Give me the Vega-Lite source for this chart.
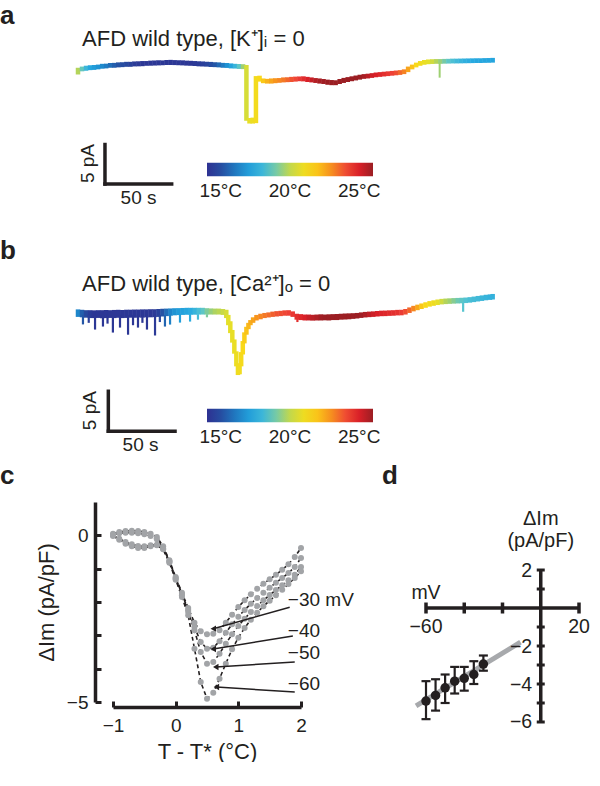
{
"$schema": "https://vega.github.io/schema/vega-lite/v6.json",
"background": "white",
"padding": {"left": 0, "top": 2, "right": 0, "bottom": 0},
"spacing": 6,
"config": {
  "view": {"stroke": null},
  "font": "Liberation Sans",
  "text": {"font": "Liberation Sans", "color": "#231f20"},
  "title": {"font": "Liberation Sans", "fontSize": 26, "fontWeight": "bold", "anchor": "start", "frame": "group", "baseline": "alphabetic", "color": "#231f20"},
  "axis": {"labelFont": "Liberation Sans", "titleFont": "Liberation Sans", "grid": false}
},
"resolve": {"scale": {"color": "independent"}},
"datasets": {
  "traceA": [
    {"t":0,"lo":-0.75,"hi":0.1,"temp":19.8},{"t":3,"lo":-0.35,"hi":0.25,"temp":18.8},{"t":6,"lo":-0.28,"hi":0.36,"temp":18.0},{"t":9,"lo":-0.2,"hi":0.42,"temp":17.4},
    {"t":12,"lo":-0.17,"hi":0.45,"temp":17.0},{"t":15,"lo":-0.1,"hi":0.5,"temp":16.7},{"t":18,"lo":-0.02,"hi":0.6,"temp":16.4},{"t":21,"lo":0.02,"hi":0.62,"temp":16.1},
    {"t":24,"lo":0.1,"hi":0.7,"temp":15.8},{"t":27,"lo":0.1,"hi":0.72,"temp":15.5},{"t":30,"lo":0.15,"hi":0.78,"temp":15.2},{"t":33,"lo":0.18,"hi":0.8,"temp":15.0},
    {"t":36,"lo":0.22,"hi":0.85,"temp":14.8},{"t":39,"lo":0.22,"hi":0.85,"temp":14.6},{"t":42,"lo":0.27,"hi":0.9,"temp":14.4},{"t":45,"lo":0.28,"hi":0.92,"temp":14.3},
    {"t":48,"lo":0.3,"hi":0.95,"temp":14.2},{"t":51,"lo":0.35,"hi":0.95,"temp":14.2},{"t":54,"lo":0.36,"hi":1.0,"temp":14.2},{"t":57,"lo":0.38,"hi":1.02,"temp":14.2},
    {"t":60,"lo":0.4,"hi":1.05,"temp":14.2},{"t":63,"lo":0.42,"hi":1.03,"temp":14.2},{"t":66,"lo":0.45,"hi":1.08,"temp":14.2},{"t":69,"lo":0.45,"hi":1.1,"temp":14.2},
    {"t":72,"lo":0.44,"hi":1.07,"temp":14.2},{"t":75,"lo":0.42,"hi":1.05,"temp":14.2},{"t":78,"lo":0.4,"hi":1.04,"temp":14.2},{"t":81,"lo":0.37,"hi":1.0,"temp":14.2},
    {"t":84,"lo":0.35,"hi":0.98,"temp":14.2},{"t":87,"lo":0.32,"hi":0.95,"temp":14.3},{"t":90,"lo":0.28,"hi":0.92,"temp":14.4},{"t":93,"lo":0.26,"hi":0.9,"temp":14.5},
    {"t":96,"lo":0.24,"hi":0.86,"temp":14.7},{"t":99,"lo":0.2,"hi":0.84,"temp":15.0},{"t":102,"lo":0.18,"hi":0.8,"temp":15.3},{"t":105,"lo":0.15,"hi":0.78,"temp":15.7},
    {"t":108,"lo":0.1,"hi":0.72,"temp":16.1},{"t":111,"lo":0.08,"hi":0.7,"temp":16.6},{"t":114,"lo":0.02,"hi":0.65,"temp":17.2},{"t":117,"lo":0.0,"hi":0.6,"temp":17.9},
    {"t":120,"lo":-0.05,"hi":0.58,"temp":18.7},{"t":123,"lo":-0.07,"hi":0.55,"temp":19.5},
    {"t":125.5,"lo":-6.6,"hi":0.45,"temp":20.3},{"t":127.8,"lo":-6.95,"hi":-6.25,"temp":20.7},{"t":130.2,"lo":-6.95,"hi":-6.2,"temp":20.9},{"t":132.6,"lo":-6.9,"hi":-0.95,"temp":21.2},
    {"t":135.3,"lo":-1.65,"hi":-0.9,"temp":21.5},{"t":138,"lo":-1.85,"hi":-1.25,"temp":21.9},{"t":141,"lo":-1.9,"hi":-1.3,"temp":22.3},{"t":144,"lo":-1.9,"hi":-1.25,"temp":22.6},
    {"t":147,"lo":-1.85,"hi":-1.22,"temp":22.9},{"t":150,"lo":-1.8,"hi":-1.2,"temp":23.1},{"t":153,"lo":-1.75,"hi":-1.12,"temp":23.3},{"t":156,"lo":-1.72,"hi":-1.1,"temp":23.6},
    {"t":159,"lo":-1.7,"hi":-1.05,"temp":23.9},{"t":162,"lo":-1.65,"hi":-1.02,"temp":24.1},{"t":165,"lo":-1.6,"hi":-1.0,"temp":24.4},{"t":168,"lo":-1.62,"hi":-0.98,"temp":24.7},
    {"t":171,"lo":-1.7,"hi":-1.05,"temp":25.0},{"t":174,"lo":-1.75,"hi":-1.12,"temp":25.3},{"t":177,"lo":-1.82,"hi":-1.2,"temp":25.6},{"t":180,"lo":-1.9,"hi":-1.25,"temp":25.8},
    {"t":183,"lo":-1.95,"hi":-1.32,"temp":25.9},{"t":186,"lo":-2.05,"hi":-1.4,"temp":26},{"t":189,"lo":-2.1,"hi":-1.45,"temp":26},{"t":192,"lo":-2.1,"hi":-1.48,"temp":26},
    {"t":195,"lo":-1.95,"hi":-1.32,"temp":26},{"t":198,"lo":-1.82,"hi":-1.18,"temp":26},{"t":201,"lo":-1.7,"hi":-1.08,"temp":26},{"t":204,"lo":-1.6,"hi":-0.98,"temp":26},
    {"t":207,"lo":-1.5,"hi":-0.88,"temp":26},{"t":210,"lo":-1.4,"hi":-0.78,"temp":26},{"t":213,"lo":-1.3,"hi":-0.7,"temp":25.8},{"t":216,"lo":-1.25,"hi":-0.65,"temp":25.5},
    {"t":219,"lo":-1.18,"hi":-0.58,"temp":25.2},{"t":222,"lo":-1.1,"hi":-0.5,"temp":25.0},{"t":225,"lo":-1.05,"hi":-0.45,"temp":24.8},{"t":228,"lo":-1.0,"hi":-0.4,"temp":24.6},
    {"t":231,"lo":-0.95,"hi":-0.35,"temp":24.4},{"t":234,"lo":-0.9,"hi":-0.3,"temp":24.2},{"t":237,"lo":-0.85,"hi":-0.25,"temp":24.0},{"t":240,"lo":-0.8,"hi":-0.2,"temp":23.6},
    {"t":243,"lo":-0.7,"hi":-0.1,"temp":23.2},{"t":246,"lo":-0.45,"hi":0.25,"temp":22.6},{"t":249,"lo":-0.1,"hi":0.5,"temp":22.0},{"t":252,"lo":0.15,"hi":0.75,"temp":21.5},
    {"t":255,"lo":0.35,"hi":0.95,"temp":21.1},{"t":258,"lo":0.48,"hi":1.08,"temp":20.8},{"t":261,"lo":0.55,"hi":1.15,"temp":20.5},{"t":264,"lo":0.58,"hi":1.18,"temp":20.2},
    {"t":267,"lo":0.6,"hi":1.2,"temp":19.8},{"t":270,"lo":0.6,"hi":1.2,"temp":19.4},{"t":273,"lo":0.62,"hi":1.22,"temp":19.0},{"t":276,"lo":0.63,"hi":1.23,"temp":18.7},
    {"t":279,"lo":0.65,"hi":1.25,"temp":18.4},{"t":282,"lo":0.65,"hi":1.25,"temp":18.1},{"t":285,"lo":0.66,"hi":1.26,"temp":17.9},{"t":288,"lo":0.67,"hi":1.27,"temp":17.7},
    {"t":291,"lo":0.68,"hi":1.28,"temp":17.6},{"t":294,"lo":0.69,"hi":1.29,"temp":17.5},{"t":297,"lo":0.7,"hi":1.3,"temp":17.4},{"t":300,"lo":0.7,"hi":1.3,"temp":17.4},
    {"t":303,"lo":0.72,"hi":1.32,"temp":17.3},{"t":306,"lo":0.73,"hi":1.33,"temp":17.3},{"t":309,"lo":0.75,"hi":1.35,"temp":17.3}
  ],
  "spikesA": [{"t":269.5,"lo":-1.15,"hi":0.8,"temp":19.5}],
  "traceB": [
    {"t":0,"lo":-0.55,"hi":0.4,"temp":16.3},{"t":3,"lo":-0.6,"hi":0.35,"temp":15.5},{"t":6,"lo":-0.65,"hi":0.3,"temp":14.8},{"t":9,"lo":-0.7,"hi":0.3,"temp":14.4},
    {"t":12,"lo":-0.7,"hi":0.28,"temp":14.2},{"t":15,"lo":-0.68,"hi":0.3,"temp":14.2},{"t":18,"lo":-0.72,"hi":0.3,"temp":14.2},{"t":21,"lo":-0.7,"hi":0.32,"temp":14.2},
    {"t":24,"lo":-0.68,"hi":0.3,"temp":14.2},{"t":27,"lo":-0.7,"hi":0.33,"temp":14.2},{"t":30,"lo":-0.66,"hi":0.35,"temp":14.2},{"t":33,"lo":-0.7,"hi":0.32,"temp":14.2},
    {"t":36,"lo":-0.68,"hi":0.36,"temp":14.2},{"t":39,"lo":-0.65,"hi":0.36,"temp":14.2},{"t":42,"lo":-0.66,"hi":0.38,"temp":14.2},{"t":45,"lo":-0.62,"hi":0.38,"temp":14.2},
    {"t":48,"lo":-0.64,"hi":0.4,"temp":14.2},{"t":51,"lo":-0.6,"hi":0.4,"temp":14.2},{"t":54,"lo":-0.6,"hi":0.42,"temp":14.2},{"t":57,"lo":-0.58,"hi":0.42,"temp":14.3},
    {"t":60,"lo":-0.55,"hi":0.45,"temp":14.6},{"t":63,"lo":-0.5,"hi":0.48,"temp":15.2},{"t":66,"lo":-0.45,"hi":0.5,"temp":15.8},{"t":69,"lo":-0.4,"hi":0.52,"temp":16.3},
    {"t":72,"lo":-0.35,"hi":0.55,"temp":16.7},{"t":75,"lo":-0.32,"hi":0.56,"temp":17.0},{"t":78,"lo":-0.3,"hi":0.58,"temp":17.2},{"t":81,"lo":-0.28,"hi":0.6,"temp":17.4},
    {"t":84,"lo":-0.28,"hi":0.6,"temp":17.6},{"t":87,"lo":-0.27,"hi":0.6,"temp":17.9},{"t":90,"lo":-0.25,"hi":0.6,"temp":18.3},{"t":93,"lo":-0.25,"hi":0.6,"temp":18.7},
    {"t":96,"lo":-0.25,"hi":0.55,"temp":19.1},{"t":99,"lo":-0.25,"hi":0.52,"temp":19.4},{"t":102,"lo":-0.25,"hi":0.5,"temp":19.7},{"t":105,"lo":-0.25,"hi":0.5,"temp":19.9},
    {"t":108,"lo":-0.3,"hi":0.45,"temp":20.1},{"t":110.5,"lo":-0.7,"hi":0.35,"temp":20.3},
    {"t":112,"lo":-1.6,"hi":-0.3,"temp":20.5},{"t":113.5,"lo":-2.6,"hi":-1.1,"temp":20.6},{"t":115,"lo":-3.8,"hi":-2.2,"temp":20.7},{"t":116.5,"lo":-5.2,"hi":-3.4,"temp":20.8},
    {"t":118,"lo":-6.8,"hi":-4.9,"temp":20.9},{"t":119.2,"lo":-7.9,"hi":-6.4,"temp":21.0},{"t":120.4,"lo":-7.8,"hi":-6.5,"temp":21.1},{"t":121.6,"lo":-6.8,"hi":-5.0,"temp":21.3},
    {"t":122.8,"lo":-5.3,"hi":-3.6,"temp":21.5},{"t":124,"lo":-3.9,"hi":-2.5,"temp":21.8},{"t":125.5,"lo":-2.8,"hi":-1.8,"temp":22.0},{"t":127,"lo":-2.1,"hi":-1.3,"temp":22.2},
    {"t":128.5,"lo":-1.6,"hi":-0.95,"temp":22.4},{"t":130.5,"lo":-1.3,"hi":-0.6,"temp":22.6},{"t":133,"lo":-1.0,"hi":-0.3,"temp":22.9},{"t":136,"lo":-0.85,"hi":-0.15,"temp":23.1},
    {"t":139,"lo":-0.7,"hi":-0.05,"temp":23.3},{"t":142,"lo":-0.62,"hi":0.02,"temp":23.5},{"t":145,"lo":-0.55,"hi":0.12,"temp":23.7},{"t":148,"lo":-0.5,"hi":0.18,"temp":23.9},
    {"t":151,"lo":-0.45,"hi":0.22,"temp":24.0},{"t":154,"lo":-0.4,"hi":0.28,"temp":24.1},{"t":157,"lo":-0.4,"hi":0.3,"temp":24.2},{"t":160,"lo":-0.55,"hi":0.15,"temp":24.4},
    {"t":163,"lo":-0.9,"hi":-0.15,"temp":24.6},{"t":166,"lo":-0.95,"hi":-0.2,"temp":24.8},{"t":169,"lo":-1.0,"hi":-0.25,"temp":25.0},{"t":172,"lo":-1.0,"hi":-0.25,"temp":25.3},
    {"t":175,"lo":-1.02,"hi":-0.28,"temp":25.5},{"t":178,"lo":-1.0,"hi":-0.25,"temp":25.7},{"t":181,"lo":-1.0,"hi":-0.22,"temp":25.9},{"t":184,"lo":-0.98,"hi":-0.25,"temp":26},
    {"t":187,"lo":-1.0,"hi":-0.22,"temp":26},{"t":190,"lo":-0.95,"hi":-0.2,"temp":26},{"t":193,"lo":-0.95,"hi":-0.18,"temp":26},{"t":196,"lo":-0.9,"hi":-0.15,"temp":26},
    {"t":199,"lo":-0.88,"hi":-0.12,"temp":26},{"t":202,"lo":-0.85,"hi":-0.1,"temp":26},{"t":205,"lo":-0.8,"hi":-0.08,"temp":26},{"t":208,"lo":-0.75,"hi":-0.05,"temp":26},
    {"t":211,"lo":-0.68,"hi":0.02,"temp":25.9},{"t":214,"lo":-0.62,"hi":0.08,"temp":25.7},{"t":217,"lo":-0.58,"hi":0.12,"temp":25.4},{"t":220,"lo":-0.55,"hi":0.15,"temp":25.2},
    {"t":223,"lo":-0.5,"hi":0.2,"temp":25.0},{"t":226,"lo":-0.46,"hi":0.24,"temp":24.9},{"t":229,"lo":-0.45,"hi":0.25,"temp":24.8},{"t":232,"lo":-0.42,"hi":0.28,"temp":24.7},
    {"t":235,"lo":-0.4,"hi":0.3,"temp":24.6},{"t":238,"lo":-0.36,"hi":0.34,"temp":24.5},{"t":241,"lo":-0.35,"hi":0.35,"temp":24.3},{"t":244,"lo":-0.25,"hi":0.45,"temp":24.0},
    {"t":247,"lo":-0.05,"hi":0.65,"temp":23.6},{"t":250,"lo":0.15,"hi":0.85,"temp":23.1},{"t":253,"lo":0.3,"hi":1.0,"temp":22.5},{"t":256,"lo":0.45,"hi":1.15,"temp":21.9},
    {"t":259,"lo":0.6,"hi":1.3,"temp":21.5},{"t":262,"lo":0.75,"hi":1.45,"temp":21.2},{"t":265,"lo":0.85,"hi":1.55,"temp":21.0},{"t":268,"lo":0.95,"hi":1.65,"temp":20.6},
    {"t":271,"lo":1.03,"hi":1.73,"temp":20.2},{"t":274,"lo":1.07,"hi":1.77,"temp":19.8},{"t":277,"lo":1.1,"hi":1.8,"temp":19.5},{"t":280,"lo":1.13,"hi":1.83,"temp":19.2},
    {"t":283,"lo":1.15,"hi":1.85,"temp":18.9},{"t":286,"lo":1.17,"hi":1.87,"temp":18.7},{"t":289,"lo":1.2,"hi":1.9,"temp":18.5},{"t":292,"lo":1.25,"hi":1.95,"temp":18.3},
    {"t":295,"lo":1.32,"hi":2.02,"temp":18.2},{"t":298,"lo":1.4,"hi":2.1,"temp":18.1},{"t":301,"lo":1.47,"hi":2.17,"temp":18.0},{"t":304,"lo":1.55,"hi":2.25,"temp":17.9},
    {"t":307,"lo":1.6,"hi":2.3,"temp":17.8},{"t":309,"lo":1.65,"hi":2.35,"temp":17.8}
  ],
  "spikesB": [
    {"t":3.7,"lo":-1.5,"hi":-0.3,"temp":15.3},{"t":8,"lo":-1.3,"hi":-0.3,"temp":14.5},{"t":12.7,"lo":-2.15,"hi":-0.3,"temp":14.2},{"t":18.6,"lo":-1.77,"hi":-0.3,"temp":14.2},
    {"t":22,"lo":-1.4,"hi":-0.3,"temp":14.2},{"t":26,"lo":-2.53,"hi":-0.3,"temp":14.2},{"t":31.3,"lo":-1.9,"hi":-0.3,"temp":14.2},{"t":37.3,"lo":-2.8,"hi":-0.3,"temp":14.2},
    {"t":41,"lo":-1.6,"hi":-0.3,"temp":14.2},{"t":44.7,"lo":-1.9,"hi":-0.3,"temp":14.2},{"t":48,"lo":-1.3,"hi":-0.3,"temp":14.2},{"t":51.4,"lo":-2.15,"hi":-0.3,"temp":14.2},
    {"t":57.4,"lo":-2.9,"hi":-0.3,"temp":14.3},{"t":61,"lo":-1.2,"hi":-0.3,"temp":14.8},{"t":64.8,"lo":-1.77,"hi":-0.3,"temp":15.6},{"t":68.6,"lo":-1.52,"hi":-0.3,"temp":16.2},
    {"t":76,"lo":-1.27,"hi":-0.2,"temp":17.1},{"t":83.5,"lo":-1.14,"hi":-0.2,"temp":17.6},{"t":89.4,"lo":-0.9,"hi":-0.2,"temp":18.2},{"t":96.1,"lo":-0.6,"hi":-0.2,"temp":19.1},
    {"t":163.5,"lo":-1.2,"hi":-0.5,"temp":24.6},{"t":287,"lo":0.1,"hi":1.3,"temp":18.6}
  ],
  "curves": [
    {"mV":"-30","x":-1.0,"y":0.05},{"mV":"-30","x":-0.9,"y":0.1},{"mV":"-30","x":-0.8,"y":0.13},{"mV":"-30","x":-0.7,"y":0.14},{"mV":"-30","x":-0.6,"y":0.13},{"mV":"-30","x":-0.5,"y":0.1},{"mV":"-30","x":-0.4,"y":0.05},{"mV":"-30","x":-0.3,"y":-0.05},
    {"mV":"-30","x":-0.2,"y":-0.33},{"mV":"-30","x":-0.1,"y":-0.75},{"mV":"-30","x":0.0,"y":-1.25},{"mV":"-30","x":0.1,"y":-1.72},{"mV":"-30","x":0.2,"y":-2.18},{"mV":"-30","x":0.3,"y":-2.62},{"mV":"-30","x":0.4,"y":-2.88},{"mV":"-30","x":0.5,"y":-2.97},
    {"mV":"-30","x":0.6,"y":-2.95},{"mV":"-30","x":0.7,"y":-2.85},{"mV":"-30","x":0.8,"y":-2.62},{"mV":"-30","x":0.9,"y":-2.38},{"mV":"-30","x":1.0,"y":-2.15},{"mV":"-30","x":1.1,"y":-1.95},{"mV":"-30","x":1.2,"y":-1.77},{"mV":"-30","x":1.3,"y":-1.6},
    {"mV":"-30","x":1.4,"y":-1.45},{"mV":"-30","x":1.5,"y":-1.32},{"mV":"-30","x":1.6,"y":-1.18},{"mV":"-30","x":1.7,"y":-1.03},{"mV":"-30","x":1.8,"y":-0.87},{"mV":"-30","x":1.9,"y":-0.65},{"mV":"-30","x":2.0,"y":-0.38},
    {"mV":"-40","x":-1.0,"y":0.02},{"mV":"-40","x":-0.9,"y":0.06},{"mV":"-40","x":-0.8,"y":0.08},{"mV":"-40","x":-0.7,"y":0.08},{"mV":"-40","x":-0.6,"y":0.06},{"mV":"-40","x":-0.5,"y":0.03},{"mV":"-40","x":-0.4,"y":-0.02},{"mV":"-40","x":-0.3,"y":-0.12},
    {"mV":"-40","x":-0.2,"y":-0.38},{"mV":"-40","x":-0.1,"y":-0.78},{"mV":"-40","x":0.0,"y":-1.28},{"mV":"-40","x":0.1,"y":-1.76},{"mV":"-40","x":0.2,"y":-2.24},{"mV":"-40","x":0.3,"y":-2.75},{"mV":"-40","x":0.4,"y":-3.2},{"mV":"-40","x":0.5,"y":-3.4},
    {"mV":"-40","x":0.6,"y":-3.37},{"mV":"-40","x":0.7,"y":-3.18},{"mV":"-40","x":0.8,"y":-2.92},{"mV":"-40","x":0.9,"y":-2.67},{"mV":"-40","x":1.0,"y":-2.44},{"mV":"-40","x":1.1,"y":-2.24},{"mV":"-40","x":1.2,"y":-2.05},{"mV":"-40","x":1.3,"y":-1.88},
    {"mV":"-40","x":1.4,"y":-1.72},{"mV":"-40","x":1.5,"y":-1.57},{"mV":"-40","x":1.6,"y":-1.42},{"mV":"-40","x":1.7,"y":-1.28},{"mV":"-40","x":1.8,"y":-1.13},{"mV":"-40","x":1.9,"y":-0.95},{"mV":"-40","x":2.0,"y":-0.68},
    {"mV":"-50","x":-1.0,"y":0.0},{"mV":"-50","x":-0.9,"y":-0.1},{"mV":"-50","x":-0.8,"y":-0.2},{"mV":"-50","x":-0.7,"y":-0.27},{"mV":"-50","x":-0.6,"y":-0.32},{"mV":"-50","x":-0.5,"y":-0.33},{"mV":"-50","x":-0.4,"y":-0.3},{"mV":"-50","x":-0.3,"y":-0.28},
    {"mV":"-50","x":-0.2,"y":-0.4},{"mV":"-50","x":-0.1,"y":-0.8},{"mV":"-50","x":0.0,"y":-1.3},{"mV":"-50","x":0.1,"y":-1.8},{"mV":"-50","x":0.2,"y":-2.3},{"mV":"-50","x":0.3,"y":-2.85},{"mV":"-50","x":0.4,"y":-3.5},{"mV":"-50","x":0.5,"y":-3.85},
    {"mV":"-50","x":0.6,"y":-3.8},{"mV":"-50","x":0.7,"y":-3.55},{"mV":"-50","x":0.8,"y":-3.25},{"mV":"-50","x":0.9,"y":-2.97},{"mV":"-50","x":1.0,"y":-2.72},{"mV":"-50","x":1.1,"y":-2.5},{"mV":"-50","x":1.2,"y":-2.3},{"mV":"-50","x":1.3,"y":-2.12},
    {"mV":"-50","x":1.4,"y":-1.95},{"mV":"-50","x":1.5,"y":-1.79},{"mV":"-50","x":1.6,"y":-1.64},{"mV":"-50","x":1.7,"y":-1.5},{"mV":"-50","x":1.8,"y":-1.35},{"mV":"-50","x":1.9,"y":-1.18},{"mV":"-50","x":2.0,"y":-0.95},
    {"mV":"-60","x":-1.0,"y":-0.02},{"mV":"-60","x":-0.9,"y":-0.13},{"mV":"-60","x":-0.8,"y":-0.25},{"mV":"-60","x":-0.7,"y":-0.33},{"mV":"-60","x":-0.6,"y":-0.38},{"mV":"-60","x":-0.5,"y":-0.38},{"mV":"-60","x":-0.4,"y":-0.33},{"mV":"-60","x":-0.3,"y":-0.3},
    {"mV":"-60","x":-0.2,"y":-0.42},{"mV":"-60","x":-0.1,"y":-0.82},{"mV":"-60","x":0.0,"y":-1.33},{"mV":"-60","x":0.1,"y":-1.85},{"mV":"-60","x":0.2,"y":-2.4},{"mV":"-60","x":0.3,"y":-3.4},{"mV":"-60","x":0.4,"y":-4.4},{"mV":"-60","x":0.5,"y":-4.9},
    {"mV":"-60","x":0.6,"y":-4.72},{"mV":"-60","x":0.7,"y":-4.3},{"mV":"-60","x":0.8,"y":-3.85},{"mV":"-60","x":0.9,"y":-3.42},{"mV":"-60","x":1.0,"y":-3.07},{"mV":"-60","x":1.1,"y":-2.78},{"mV":"-60","x":1.2,"y":-2.53},{"mV":"-60","x":1.3,"y":-2.32},
    {"mV":"-60","x":1.4,"y":-2.13},{"mV":"-60","x":1.5,"y":-1.96},{"mV":"-60","x":1.6,"y":-1.8},{"mV":"-60","x":1.7,"y":-1.63},{"mV":"-60","x":1.8,"y":-1.46},{"mV":"-60","x":1.9,"y":-1.28},{"mV":"-60","x":2.0,"y":-1.08}
  ],
  "arrows": [
    {"lab":"−30 mV","x1":1.82,"y1":-2.16,"x2":0.6,"y2":-2.8,"lx":1.79,"ly":-1.95},
    {"lab":"−40","x1":1.87,"y1":-3.02,"x2":0.6,"y2":-3.41,"lx":1.79,"ly":-2.87},
    {"lab":"−50","x1":1.9,"y1":-3.8,"x2":0.64,"y2":-3.95,"lx":1.79,"ly":-3.53},
    {"lab":"−60","x1":1.9,"y1":-4.7,"x2":0.65,"y2":-4.55,"lx":1.79,"ly":-4.46}
  ],
  "ivD": [
    {"mV":-60,"I":-4.9,"lo":-5.85,"hi":-3.85},{"mV":-55,"I":-4.6,"lo":-5.4,"hi":-3.75},{"mV":-50,"I":-4.2,"lo":-5.0,"hi":-3.5},
    {"mV":-45,"I":-3.85,"lo":-4.5,"hi":-3.1},{"mV":-40,"I":-3.7,"lo":-4.35,"hi":-3.1},{"mV":-35,"I":-3.5,"lo":-4.0,"hi":-2.8},{"mV":-30,"I":-2.95,"lo":-3.3,"hi":-2.5}
  ],
  "fitD": [{"mV":-65.2,"I":-5.15,"mV2":-10.6,"I2":-1.8}],
  "axesD": [{"x":-60,"x2":20,"y":0,"y2":0},{"x":0,"x2":0,"y":-6,"y2":2}]
},
"vconcat": [
  {"hconcat": [{
    "width": 381, "height": 202.7,
    "title": {"text": "a", "dx": -113, "offset": -1.3},
    "layer": [
      {"data": {"name": "traceA"}, "mark": {"type": "rule", "strokeWidth": 4.5, "strokeCap": "butt"},
       "encoding": {
         "x": {"field": "t", "type": "quantitative", "scale": {"domain": [26.08, 310], "nice": false, "zero": false}, "axis": null},
         "y": {"field": "lo", "type": "quantitative", "scale": {"domain": [-20.62, 5], "nice": false, "zero": false}, "axis": null},
         "y2": {"field": "hi"},
         "color": {"field": "temp", "type": "quantitative",
           "scale": {"type": "linear", "domain": [14,15.3,16.5,17.5,18.6,19.6,20.5,21.6,22.9,24.2,25,26], "range": ["#2e3192","#2456a6","#1d8fd1","#27aae1","#56c5d0","#a6d168","#e4e02a","#fbd817","#f7941d","#ee4036","#d92028","#9b1e23"], "interpolate": "rgb"},
           "legend": {"orient": "none", "legendX": 94, "legendY": 133.8, "direction": "horizontal", "title": null, "gradientLength": 166, "gradientThickness": 13.4, "values": [15,20,25], "labelExpr": "datum.value + '°C'", "labelFontSize": 19, "labelColor": "#231f20", "labelFont": "Liberation Sans", "labelOffset": 6, "labelOverlap": false, "labelAlign": "center", "gradientStrokeWidth": 0, "padding": 0}}
       }},
      {"data": {"name": "spikesA"}, "mark": {"type": "rule", "strokeWidth": 2},
       "encoding": {"x": {"field": "t", "type": "quantitative"}, "y": {"field": "lo", "type": "quantitative"}, "y2": {"field": "hi"}, "color": {"field": "temp", "type": "quantitative"}}},
      {"data": {"values": [{"t":20.1,"t2":20.1,"I":-9.6,"I2":-14.6},{"t":20.1,"t2":69.8,"I":-14.6,"I2":-14.6}]}, "mark": {"type": "rule", "strokeWidth": 3.5, "strokeCap": "square", "color": "#231f20"},
       "encoding": {"x": {"field": "t", "type": "quantitative"}, "x2": {"field": "t2"}, "y": {"field": "I", "type": "quantitative"}, "y2": {"field": "I2"}}},
      {"data": {"values": [{"t":7.5,"I":-12.0,"txt":"5 pA"}]}, "mark": {"type": "text", "angle": 270, "fontSize": 19, "align": "center", "baseline": "middle"},
       "encoding": {"x": {"field": "t", "type": "quantitative"}, "y": {"field": "I", "type": "quantitative"}, "text": {"field": "txt"}}},
      {"data": {"values": [{"t":45.1,"I":-16.4,"txt":"50 s"}]}, "mark": {"type": "text", "fontSize": 19, "align": "center", "baseline": "middle"},
       "encoding": {"x": {"field": "t", "type": "quantitative"}, "y": {"field": "I", "type": "quantitative"}, "text": {"field": "txt"}}},
      {"data": {"values": [{"t":3,"I":2.91,"txt":"AFD wild type, [K⁺]ᵢ = 0"}]}, "mark": {"type": "text", "fontSize": 22, "align": "left", "baseline": "alphabetic"},
       "encoding": {"x": {"field": "t", "type": "quantitative"}, "y": {"field": "I", "type": "quantitative"}, "text": {"field": "txt"}}}
    ]
  }], "resolve": {"scale": {"color": "independent"}}},
  {"hconcat": [{
    "width": 381, "height": 178,
    "title": {"text": "b", "dx": -113, "offset": 8.5},
    "layer": [
      {"data": {"name": "traceB"}, "mark": {"type": "rule", "strokeWidth": 4.5, "strokeCap": "butt"},
       "encoding": {
         "x": {"field": "t", "type": "quantitative", "scale": {"domain": [26.08, 310], "nice": false, "zero": false}, "axis": null},
         "y": {"field": "lo", "type": "quantitative", "scale": {"domain": [-17.5, 5], "nice": false, "zero": false}, "axis": null},
         "y2": {"field": "hi"},
         "color": {"field": "temp", "type": "quantitative",
           "scale": {"type": "linear", "domain": [14,15.3,16.5,17.5,18.6,19.6,20.5,21.6,22.9,24.2,25,26], "range": ["#2e3192","#2456a6","#1d8fd1","#27aae1","#56c5d0","#a6d168","#e4e02a","#fbd817","#f7941d","#ee4036","#d92028","#9b1e23"], "interpolate": "rgb"},
           "legend": {"orient": "none", "legendX": 94, "legendY": 135.8, "direction": "horizontal", "title": null, "gradientLength": 166, "gradientThickness": 13.4, "values": [15,20,25], "labelExpr": "datum.value + '°C'", "labelFontSize": 19, "labelColor": "#231f20", "labelFont": "Liberation Sans", "labelOffset": 6, "labelOverlap": false, "labelAlign": "center", "gradientStrokeWidth": 0, "padding": 0}}
       }},
      {"data": {"name": "spikesB"}, "mark": {"type": "rule", "strokeWidth": 2.2},
       "encoding": {"x": {"field": "t", "type": "quantitative"}, "y": {"field": "lo", "type": "quantitative"}, "y2": {"field": "hi"}, "color": {"field": "temp", "type": "quantitative"}}},
      {"data": {"values": [{"t":22.6,"t2":22.6,"I":-9.95,"I2":-15.0},{"t":22.6,"t2":72.3,"I":-15.0,"I2":-15.0}]}, "mark": {"type": "rule", "strokeWidth": 3.5, "strokeCap": "square", "color": "#231f20"},
       "encoding": {"x": {"field": "t", "type": "quantitative"}, "x2": {"field": "t2"}, "y": {"field": "I", "type": "quantitative"}, "y2": {"field": "I2"}}},
      {"data": {"values": [{"t":9.3,"I":-12.4,"txt":"5 pA"}]}, "mark": {"type": "text", "angle": 270, "fontSize": 19, "align": "center", "baseline": "middle"},
       "encoding": {"x": {"field": "t", "type": "quantitative"}, "y": {"field": "I", "type": "quantitative"}, "text": {"field": "txt"}}},
      {"data": {"values": [{"t":46.6,"I":-16.8,"txt":"50 s"}]}, "mark": {"type": "text", "fontSize": 19, "align": "center", "baseline": "middle"},
       "encoding": {"x": {"field": "t", "type": "quantitative"}, "y": {"field": "I", "type": "quantitative"}, "text": {"field": "txt"}}},
      {"data": {"values": [{"t":3,"I":2.78,"txt":"AFD wild type, [Ca²⁺]ₒ = 0"}]}, "mark": {"type": "text", "fontSize": 22, "align": "left", "baseline": "alphabetic"},
       "encoding": {"x": {"field": "t", "type": "quantitative"}, "y": {"field": "I", "type": "quantitative"}, "text": {"field": "txt"}}}
    ]
  }], "resolve": {"scale": {"color": "independent"}}},
  {"hconcat": [
    {
      "width": 188, "height": 200,
      "title": {"text": "c", "dx": -113, "offset": 13.5},
      "layer": [
        {"data": {"name": "curves"}, "mark": {"type": "line", "color": "#231f20", "strokeWidth": 1.6, "strokeDash": [4, 3]},
         "encoding": {
           "x": {"field": "x", "type": "quantitative", "scale": {"domain": [-1, 2], "nice": false, "zero": false},
             "axis": {"values": [-1, 0, 1, 2], "tickCount": 10, "format": "d", "offset": 5, "tickSize": -6, "tickWidth": 3, "tickColor": "#231f20", "domainWidth": 3.5, "domainColor": "#231f20", "labelFontSize": 19, "labelColor": "#231f20", "labelPadding": 15, "labelFlush": false, "labelOverlap": false, "title": "T - T* (°C)", "titleFontSize": 22, "titleFontWeight": "normal", "titleColor": "#231f20", "titlePadding": 6}},
           "y": {"field": "y", "type": "quantitative", "scale": {"domain": [-5, 1], "nice": false, "zero": false},
             "axis": {"values": [0, -1, -2, -3, -4, -5], "tickCount": 10, "labelExpr": "datum.value == 0 ? '0' : (datum.value == -5 ? '−5' : '')", "offset": 18, "tickSize": -6, "tickWidth": 3, "tickColor": "#231f20", "domainWidth": 3.5, "domainColor": "#231f20", "labelFontSize": 19, "labelColor": "#231f20", "labelPadding": 13, "labelFlush": false, "labelOverlap": false, "title": "ΔIm (pA/pF)", "titleFontSize": 22, "titleFontWeight": "normal", "titleColor": "#231f20", "titlePadding": 8}},
           "detail": {"field": "mV"}
         }},
        {"data": {"name": "curves"}, "mark": {"type": "circle", "color": "#a2a4a7", "size": 36, "opacity": 1},
         "encoding": {"x": {"field": "x", "type": "quantitative"}, "y": {"field": "y", "type": "quantitative"}}},
        {"data": {"name": "arrows"}, "mark": {"type": "rule", "color": "#231f20", "strokeWidth": 1.5},
         "encoding": {"x": {"field": "x1", "type": "quantitative"}, "y": {"field": "y1", "type": "quantitative"}, "x2": {"field": "x2"}, "y2": {"field": "y2"}}},
        {"data": {"name": "arrows"}, "mark": {"type": "point", "shape": "triangle-left", "filled": true, "color": "#231f20", "size": 40, "opacity": 1},
         "encoding": {"x": {"field": "x2", "type": "quantitative"}, "y": {"field": "y2", "type": "quantitative"}}},
        {"data": {"name": "arrows"}, "mark": {"type": "text", "fontSize": 19, "align": "left", "baseline": "middle"},
         "encoding": {"x": {"field": "lx", "type": "quantitative"}, "y": {"field": "ly", "type": "quantitative"}, "text": {"field": "lab"}}}
      ]
    },
    {
      "width": 153, "height": 220,
      "title": {"text": "d", "dx": -44, "offset": 13.5},
      "layer": [
        {"data": {"name": "fitD"}, "mark": {"type": "rule", "color": "#a7a9ac", "strokeWidth": 5},
         "encoding": {"x": {"field": "mV", "type": "quantitative", "scale": {"domain": [-60, 20], "nice": false, "zero": false}, "axis": null},
                      "y": {"field": "I", "type": "quantitative", "scale": {"domain": [-6, 5.58], "nice": false, "zero": false}, "axis": null},
                      "x2": {"field": "mV2"}, "y2": {"field": "I2"}}},
        {"data": {"name": "axesD"}, "mark": {"type": "rule", "color": "#231f20", "strokeWidth": 3.5},
         "encoding": {"x": {"field": "x", "type": "quantitative"}, "x2": {"field": "x2"}, "y": {"field": "y", "type": "quantitative"}, "y2": {"field": "y2"}}},
        {"data": {"values": [{"v": -60}, {"v": -40}, {"v": -20}, {"v": 20}]}, "mark": {"type": "tick", "orient": "vertical", "size": 11, "thickness": 3.5, "color": "#231f20", "opacity": 1},
         "encoding": {"x": {"field": "v", "type": "quantitative"}, "y": {"datum": 0, "type": "quantitative"}}},
        {"data": {"values": [{"v": 2}, {"v": 1}, {"v": -1}, {"v": -2}, {"v": -3}, {"v": -4}, {"v": -5}, {"v": -6}]}, "mark": {"type": "tick", "orient": "horizontal", "size": 8, "thickness": 3, "color": "#231f20", "opacity": 1},
         "encoding": {"x": {"datum": 0, "type": "quantitative"}, "y": {"field": "v", "type": "quantitative"}}},
        {"data": {"name": "ivD"}, "mark": {"type": "rule", "color": "#231f20", "strokeWidth": 2.2},
         "encoding": {"x": {"field": "mV", "type": "quantitative"}, "y": {"field": "lo", "type": "quantitative"}, "y2": {"field": "hi"}}},
        {"data": {"name": "ivD"}, "mark": {"type": "tick", "orient": "horizontal", "size": 9, "thickness": 2.2, "color": "#231f20", "opacity": 1},
         "encoding": {"x": {"field": "mV", "type": "quantitative"}, "y": {"field": "lo", "type": "quantitative"}}},
        {"data": {"name": "ivD"}, "mark": {"type": "tick", "orient": "horizontal", "size": 9, "thickness": 2.2, "color": "#231f20", "opacity": 1},
         "encoding": {"x": {"field": "mV", "type": "quantitative"}, "y": {"field": "hi", "type": "quantitative"}}},
        {"data": {"name": "ivD"}, "mark": {"type": "circle", "color": "#231f20", "size": 90, "opacity": 1},
         "encoding": {"x": {"field": "mV", "type": "quantitative"}, "y": {"field": "I", "type": "quantitative"}}},
        {"data": {"values": [{"x":0,"y":4.7,"txt":"ΔIm"},{"x":0,"y":3.55,"txt":"(pA/pF)"}]}, "mark": {"type": "text", "fontSize": 20, "align": "center", "baseline": "middle"},
         "encoding": {"x": {"field": "x", "type": "quantitative"}, "y": {"field": "y", "type": "quantitative"}, "text": {"field": "txt"}}},
        {"data": {"values": [{"x":-60,"y":0.78,"txt":"mV"},{"x":-60,"y":-1.0,"txt":"−60"},{"x":20,"y":-1.0,"txt":"20"}]}, "mark": {"type": "text", "fontSize": 19.5, "align": "center", "baseline": "middle"},
         "encoding": {"x": {"field": "x", "type": "quantitative"}, "y": {"field": "y", "type": "quantitative"}, "text": {"field": "txt"}}},
        {"data": {"values": [{"x":-4.5,"y":1.95,"txt":"2"},{"x":-4.5,"y":-2.05,"txt":"−2"},{"x":-4.5,"y":-4.05,"txt":"−4"},{"x":-4.5,"y":-6.0,"txt":"−6"}]}, "mark": {"type": "text", "fontSize": 19.5, "align": "right", "baseline": "middle"},
         "encoding": {"x": {"field": "x", "type": "quantitative"}, "y": {"field": "y", "type": "quantitative"}, "text": {"field": "txt"}}}
      ]
    }
  ], "spacing": 28}
]
}
